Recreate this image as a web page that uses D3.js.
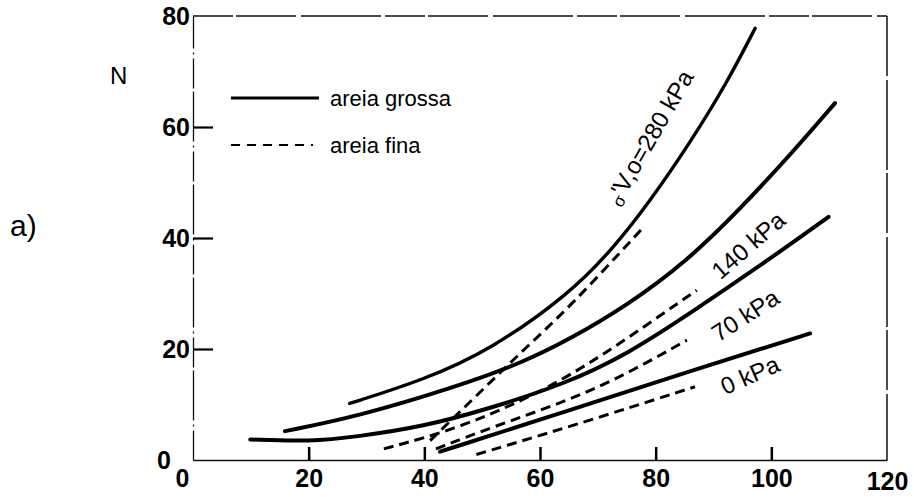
<!DOCTYPE html>
<html><head><meta charset="utf-8">
<script src="https://cdn.jsdelivr.net/npm/d3@7"></script>
<style>
html,body{margin:0;padding:0;background:#fff;}
svg{display:block;font-family:"Liberation Sans",Arial,sans-serif;}
</style></head>
<body>
<svg id="chart" width="914" height="497"></svg>
<script>
// ---- data ----
const xTicks = [0, 20, 40, 60, 80, 100, 120];
const yTicks = [0, 20, 40, 60, 80];
const pressures = ["280", "140", "70", "0"];

// areia grossa (solid)
const grossa280 = [[27.1,10.2],[39.8,14.4],[51.4,19.8],[65.2,30.0],[72.7,38.2],[79.0,46.6],[85.9,57.1],[92.3,67.9],[97.2,77.8]];
const grossa140 = [[15.9,5.2],[28.3,7.8],[45.6,13.2],[57.1,17.6],[65.2,21.8],[75.0,27.8],[85.4,35.8],[94.6,45.2],[103.8,55.6],[111.0,64.3]];
const grossa70  = [[9.9,3.7],[20.2,3.3],[28.3,4.2],[39.8,6.0],[51.4,9.3],[64.5,13.8],[75.0,19.0],[86.5,26.8],[101.5,37.5],[109.9,43.8]];
const grossa0   = [[42.7,1.5],[65.2,9.0],[86.5,16.2],[106.7,22.8]];

// areia fina (dashed)
const fina280 = [[41.0,3.5],[51.4,14.0],[57.1,19.8],[65.2,27.6],[77.5,41.5]];
const fina140 = [[33.0,2.0],[45.6,5.6],[57.1,10.8],[65.2,15.2],[75.0,21.8],[87.1,30.6]];
const fina70  = [[42.0,2.0],[51.4,5.8],[65.2,10.8],[75.0,15.5],[85.4,21.6]];
const fina0   = [[49.0,1.0],[65.2,6.0],[86.8,13.2]];

const curveLabels = ["280 kPa", "140  kPa", "70 kPa", "0 kPa"];
const labelPos = [[79.1,58.0],[96.0,38.7],[95.5,26.1],[96.3,15.3]];
const labelAngle = [-60, -41, -33, -24];

const legendNames = ["areia grossa", "areia fina"];

// ---- drawing ----
const svg = d3.select("#chart");
const x = d3.scaleLinear().domain([0,120]).range([193,887]);
const y = d3.scaleLinear().domain([0,80]).range([460,16]);

// frame
svg.append("line").attr("x1",x(0)).attr("x2",x(120)).attr("y1",y(80)).attr("y2",y(80))
  .attr("stroke","#111").attr("stroke-width",1.3).attr("stroke-dasharray","40,3,60,5,80,4");
svg.append("line").attr("x1",x(120)).attr("x2",x(120)).attr("y1",y(80)).attr("y2",y(0))
  .attr("stroke","#111").attr("stroke-width",1.5).attr("stroke-dasharray","60,4,90,3");

// x axis
const xAxis = d3.axisBottom(x).tickValues(xTicks).tickFormat(d3.format("d"))
  .tickSizeInner(-13).tickSizeOuter(0).tickPadding(9);
const gx = svg.append("g").attr("transform",`translate(0,${y(0)})`).call(xAxis);
gx.select(".domain").attr("stroke","#111").attr("stroke-width",1.3);
gx.selectAll(".tick line").attr("stroke","#000").attr("stroke-width",2.5)
  .attr("opacity",(d)=> (d===0||d===120)?0:1);
gx.selectAll(".tick text").attr("fill","#000").attr("font-size",25).attr("font-weight","bold")
  .attr("font-family","Liberation Sans, Arial, sans-serif")
  .attr("dx",(d)=> d===0 ? -11 : 0).attr("y",(d)=> d===120 ? 12 : 9);

// y axis
const yAxis = d3.axisLeft(y).tickValues(yTicks).tickFormat(d3.format("d"))
  .tickSizeInner(-20).tickSizeOuter(0).tickPadding(3);
const gy = svg.append("g").attr("transform",`translate(${x(0)},0)`).call(yAxis);
gy.select(".domain").attr("stroke","#111").attr("stroke-width",1.3).attr("stroke-dasharray","30,4,2,4,50,3");
gy.selectAll(".tick line").attr("stroke","#000").attr("stroke-width",2.2)
  .attr("opacity",(d)=> (d===0||d===80)?0:1);
gy.selectAll(".tick text").attr("fill","#000").attr("font-size",25).attr("font-weight","bold")
  .attr("font-family","Liberation Sans, Arial, sans-serif")
  .attr("dx",(d)=> d===0 ? -19 : 0);

// curves
const line = d3.line().x(d=>x(d[0])).y(d=>y(d[1])).curve(d3.curveBasis);
const solids = [grossa280, grossa140, grossa70, grossa0];
const dashes = [fina280, fina140, fina70, fina0];
svg.append("g").selectAll("path").data(dashes).join("path")
  .attr("d",line).attr("fill","none").attr("stroke","#000").attr("stroke-width",3)
  .attr("stroke-dasharray","10,6");
svg.append("g").selectAll("path").data(solids).join("path")
  .attr("d",line).attr("fill","none").attr("stroke","#000")
  .attr("stroke-width",(d,i)=> i===0 ? 3.4 : 4).attr("stroke-linecap","round");

// curve labels
const lg = svg.append("g").attr("font-size",24).attr("fill","#000");
pressures.forEach((p,i)=>{
  const t = lg.append("text")
    .attr("transform",`translate(${x(labelPos[i][0])},${y(labelPos[i][1])}) rotate(${labelAngle[i]})`)
    .attr("text-anchor","middle").attr("dominant-baseline","central");
  if(i===0){
    t.append("tspan").attr("font-size",17).attr("dy","0.25em").text("σ");
    t.append("tspan").attr("dy","-0.25em").text("'V,o=" + curveLabels[0]);
  } else {
    t.text(curveLabels[i]);
  }
});

// legend
const leg = svg.append("g");
leg.append("line").attr("x1",231).attr("x2",319).attr("y1",98).attr("y2",98)
  .attr("stroke","#000").attr("stroke-width",3);
leg.append("line").attr("x1",231).attr("x2",313).attr("y1",145).attr("y2",145)
  .attr("stroke","#000").attr("stroke-width",2).attr("stroke-dasharray","9,7");
leg.append("text").attr("x",330).attr("y",106).attr("font-size",22).text(legendNames[0]);
leg.append("text").attr("x",330).attr("y",153).attr("font-size",22).text(legendNames[1]);

// axis title and panel label
svg.append("text").attr("x",110).attr("y",84).attr("font-size",24).text("N");
svg.append("text").attr("x",10).attr("y",236).attr("font-size",30).text("a)");
</script>
</body></html>
